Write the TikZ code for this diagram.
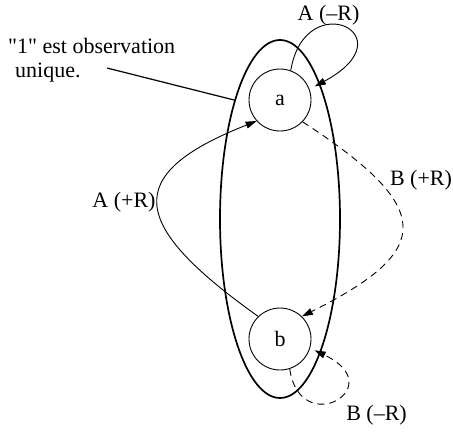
\documentclass[tikz,border=0pt]{standalone}
\usepackage{fontspec}
\setmainfont{Liberation Serif}[Ligatures=TeXOff]
\usetikzlibrary{arrows.meta,shapes.geometric}
\begin{document}
\begin{tikzpicture}[x=1pt,y=-1pt,
  txt/.style={font=\fontsize{22}{24}\selectfont, inner sep=0pt},
  statebox/.style={circle, draw, line width=0.9pt, minimum size=62pt, inner sep=0pt, font=\fontsize{22}{24}\selectfont},
  edge/.style={line width=0.9pt, -{Triangle[length=11pt,width=7pt]}},
  dashedge/.style={edge, dash pattern=on 7pt off 5pt}]
\useasboundingbox (0,0) rectangle (453,432);
% observation set
\node[ellipse, draw, line width=1.7pt, minimum width=120pt, minimum height=358pt, inner sep=0pt] (E) at (280,219) {};
% states
\node[statebox] (a) at (280,100) {a};
\node[statebox] (b) at (280,339) {b};
% labels
\node[txt, anchor=base] (lAm) at (328.5,20) {A (\textendash R)};
\node[txt, anchor=base] (lAp) at (124,207) {A (+R)};
\node[txt, anchor=base] (lBp) at (421,185) {B (+R)};
\node[txt, anchor=base] (lBm) at (376.5,420) {B (\textendash R)};
\node[txt, anchor=base west] (n1) at (8,53) {"1" est observation};
\node[txt, anchor=base west] (n2) at (15,77) {unique.};
\coordinate (ptr) at (107,68);
% connectors
\draw[line width=1.2pt] (ptr) -- (E.111);
\draw[edge, shorten >=6pt] (a.70) .. controls (305,-15) and (410,35) .. (a.20);
\draw[edge] (b.134) .. controls (130,225) and (120,175) .. (a.222);
\draw[dashedge] (a.-44) .. controls (435,208) and (435,250) .. (b.46);
\draw[dashedge, shorten >=5pt] (b.-72) .. controls (300,440) and (392,387) .. (b.-17);
\end{tikzpicture}
\end{document}
